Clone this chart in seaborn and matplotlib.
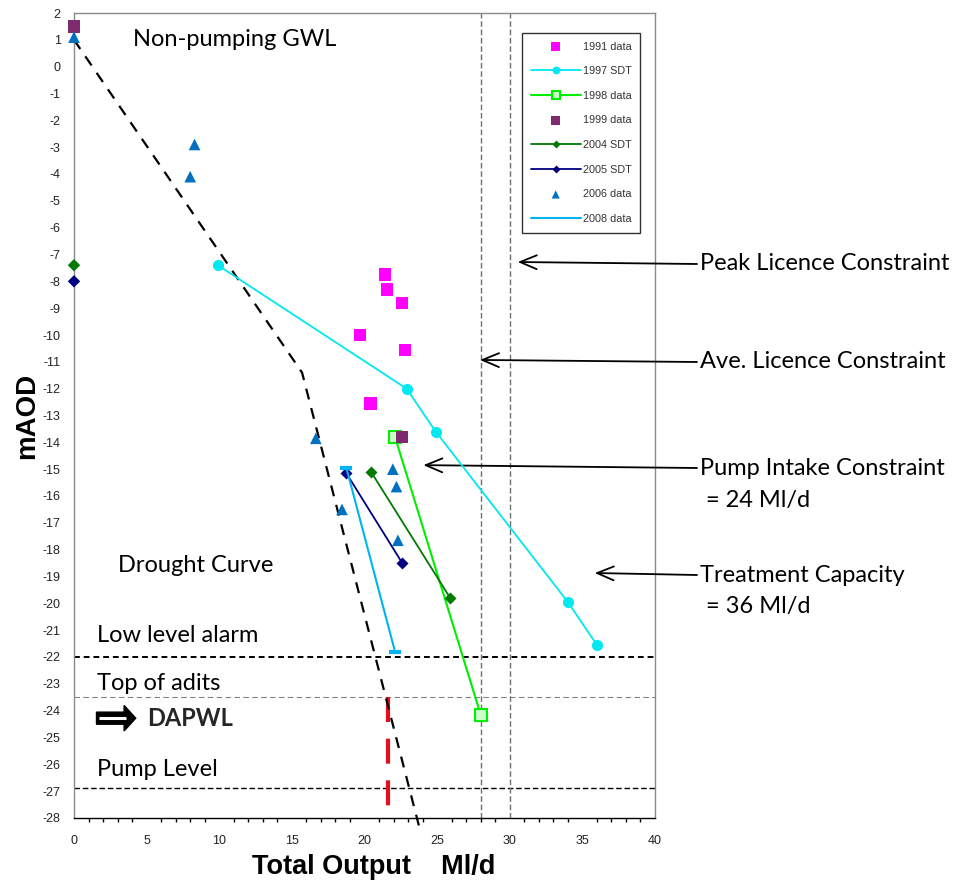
import numpy as np
import pandas as pd
import matplotlib
matplotlib.use("Agg")
import matplotlib.pyplot as plt
from matplotlib.patches import FancyArrow
import seaborn as sns

# ---------------- data ----------------
x_1991 = [21.4, 21.55, 22.6, 19.7, 22.8, 20.4]
y_1991 = [-7.75, -8.3, -8.8, -10.0, -10.55, -12.55]

x_1997 = [9.9, 22.9, 24.9, 34.0, 36.0]
y_1997 = [-7.4, -12.0, -13.6, -19.95, -21.55]

x_1998 = [22.1, 28.0]
y_1998 = [-13.8, -24.15]

x_1999 = [0.0, 22.6]
y_1999 = [1.5, -13.8]

# 2004 / 2005: non-pumping point at x=0 plotted on its own, then the test line
x_2004_np = [0.0]
y_2004_np = [-7.4]
x_2004 = [20.45, 25.9]
y_2004 = [-15.1, -19.8]

x_2005_np = [0.0]
y_2005_np = [-8.0]
x_2005 = [18.75, 22.6]
y_2005 = [-15.15, -18.5]

x_2006 = [0.0, 8.3, 8.0, 16.65, 18.45, 21.95, 22.2, 22.3]
y_2006 = [1.1, -2.9, -4.1, -13.85, -16.5, -15.0, -15.65, -17.65]

x_2008 = [18.75, 22.1]
y_2008 = [-14.95, -21.8]

drought_x = [0.0, 15.7, 23.8]
drought_y = [1.0, -11.4, -28.4]

low_alarm = -22.0
top_adits = -23.5
pump_level = -26.9
ave_licence = 28.0
peak_licence = 30.0
dapwl_x = 21.6

x_ticks = list(range(0, 41, 5))
y_ticks = list(range(-28, 3))

# ---------------- figure ----------------
sns.set_style("white")
plt.rcParams['font.family'] = ['Liberation Sans', 'DejaVu Sans']

fig = plt.figure(figsize=(9.6, 8.83), dpi=100)
ax = fig.add_axes([74/960, 1-818/883, 581/960, 805/883])

def df(x, y):
    return pd.DataFrame({"x": x, "y": y})

# reference lines
for yy, lw, col, ds in [(low_alarm, 1.4, "black", (3, 2)),
                        (top_adits, 0.8, "#808080", (5, 3)),
                        (pump_level, 1.0, "black", (4, 2))]:
    ax.axhline(yy, color=col, lw=lw, dashes=ds, zorder=1)
for xx in [ave_licence, peak_licence]:
    ax.axvline(xx, color="#707070", lw=1.0, dashes=(4, 2), zorder=1)

ax.plot([dapwl_x, dapwl_x], [top_adits, -28], color="#E0101A", lw=3,
        dashes=(6, 4), zorder=2)

sns.lineplot(data=df(drought_x, drought_y), x="x", y="y", ax=ax, sort=False,
             estimator=None, color="black", lw=1.6, zorder=3)
ax.lines[-1].set_dashes((5, 4))
ax.lines[-1].set_clip_on(False)

# series
sns.scatterplot(data=df(x_1991, y_1991), x="x", y="y", ax=ax, marker="s",
                color="#FF00FF", s=80, edgecolor="none", label="1991 data", zorder=5)
sns.lineplot(data=df(x_1997, y_1997), x="x", y="y", ax=ax, sort=False, estimator=None,
             color="#00E8F0", lw=1.3, marker="o", markersize=8, markeredgecolor="none",
             label="1997 SDT", zorder=4)
sns.lineplot(data=df(x_1998, y_1998), x="x", y="y", ax=ax, sort=False, estimator=None,
             color="#00EE00", lw=1.5, marker="s", markersize=8, markerfacecolor="#CCFFCC",
             markeredgecolor="#00EE00", markeredgewidth=1.5, label="1998 data", zorder=4)
sns.scatterplot(data=df(x_1999, y_1999), x="x", y="y", ax=ax, marker="s",
                color="#7F2A6E", s=80, edgecolor="none", label="1999 data", zorder=6,
                clip_on=False)
sns.lineplot(data=df(x_2004, y_2004), x="x", y="y", ax=ax, sort=False, estimator=None,
             color="#007A00", lw=1.3, marker="D", markersize=6, markeredgecolor="none",
             label="2004 SDT", zorder=4)
sns.scatterplot(data=df(x_2004_np, y_2004_np), x="x", y="y", ax=ax, marker="D",
                color="#007A00", s=40, edgecolor="none", zorder=6, clip_on=False)
sns.lineplot(data=df(x_2005, y_2005), x="x", y="y", ax=ax, sort=False, estimator=None,
             color="#000080", lw=1.3, marker="D", markersize=6, markeredgecolor="none",
             label="2005 SDT", zorder=4)
sns.scatterplot(data=df(x_2005_np, y_2005_np), x="x", y="y", ax=ax, marker="D",
                color="#000080", s=40, edgecolor="none", zorder=6, clip_on=False)
sns.scatterplot(data=df(x_2006, y_2006), x="x", y="y", ax=ax, marker="^",
                color="#0070C0", s=70, edgecolor="none", label="2006 data", zorder=6,
                clip_on=False)
sns.lineplot(data=df(x_2008, y_2008), x="x", y="y", ax=ax, sort=False, estimator=None,
             color="#00B4F0", lw=1.5, label="2008 data", zorder=4)
ax.plot(x_2008, y_2008, ls="none", marker="_", markersize=9, markeredgewidth=3,
        color="#00B4F0", zorder=4)

# axes
ax.set_xlim(0, 40)
ax.set_ylim(-28, 2)
ax.set_xticks(x_ticks)
ax.set_xticks(range(0, 41), minor=True)
ax.set_yticks(y_ticks)
ax.set_yticklabels([str(v) for v in y_ticks])
ax.tick_params(axis="both", which="major", direction="out", length=6, width=1,
               color="black", labelsize=9, labelcolor="#222222")
ax.tick_params(axis="x", which="minor", direction="out", length=3, width=1,
               color="black", bottom=True)
ax.tick_params(axis="x", which="major", pad=6)
for s in ax.spines.values():
    s.set_color("#8a8a8a")
    s.set_linewidth(1.0)
ax.spines["bottom"].set_color("black")
ax.set_xlabel("Total Output    Ml/d", fontsize=19.5, fontweight="bold", color="black")
ax.xaxis.set_label_coords((374 - 74) / 581, -0.045)
ax.set_ylabel("mAOD", fontsize=20, fontweight="bold", labelpad=2, color="black")

leg = ax.legend(loc="upper left", bbox_to_anchor=(0.762, 0.982), fontsize=7.8,
                frameon=True, fancybox=False, edgecolor="black", labelspacing=1.35,
                handlelength=4.6, borderpad=0.8, handletextpad=0.2, markerscale=0.7)
leg.get_frame().set_linewidth(1.0)
for t in leg.get_texts():
    t.set_color("#333333")

# text annotations
tf = dict(family=["Lato", "DejaVu Sans"], fontsize=17, color="black", va="center")
def fx(px):
    return px / 960
def fy(py):
    return 1 - py / 883

fig.text(fx(133), fy(40), "Non-pumping GWL", **tf)
fig.text(fx(118), fy(566), "Drought Curve", **tf)
fig.text(fx(97), fy(636), "Low level alarm", **tf)
fig.text(fx(97), fy(683), "Top of adits", **tf)
fig.text(fx(97), fy(770), "Pump Level", **tf)
fig.text(fx(147), fy(719), "DAPWL", family=["Lato", "DejaVu Sans"], fontsize=17,
         fontweight="bold", va="center")

arr = FancyArrow(1.55, -24.28, 2.7, 0, width=0.45, head_width=0.95, head_length=0.8,
                 length_includes_head=True, color="black", zorder=7)
ax.add_patch(arr)
ax.plot([1.75, 3.55], [-24.28, -24.28], color="white", lw=2.2, zorder=8,
        solid_capstyle="butt")

right = [("Peak Licence Constraint", 264, (30.55, -7.28)),
         ("Ave. Licence Constraint", 362, (27.95, -10.93)),
         ("Pump Intake Constraint\n = 24 Ml/d", 468, (24.05, -14.85)),
         ("Treatment Capacity\n = 36 Ml/d", 575, (35.85, -18.87))]
for txt, py, head in right:
    lines = txt.split("\n")
    fig.text(fx(700), fy(py), lines[0], **tf)
    if len(lines) > 1:
        fig.text(fx(700), fy(py + 32), lines[1], **tf)
    ax.annotate("", xy=head, xycoords="data",
                xytext=(fx(697), fy(py)), textcoords="figure fraction",
                arrowprops=dict(arrowstyle="->,head_length=1.2,head_width=0.5",
                                color="black", lw=1.3, shrinkA=0, shrinkB=0),
                annotation_clip=False)

fig.savefig("out.png", dpi=100)
